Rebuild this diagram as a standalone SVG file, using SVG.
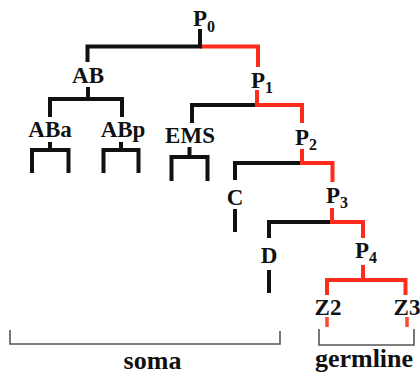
<svg xmlns="http://www.w3.org/2000/svg" width="420" height="378" viewBox="0 0 420 378">
  <style>
    .bg { fill: #ffffff; }
    .soma { fill: none; stroke: #111111; stroke-width: 4; stroke-linecap: butt; stroke-linejoin: miter; }
    .germ { fill: none; stroke: #ff2b1c; stroke-width: 4; stroke-linecap: butt; stroke-linejoin: miter; }
    .fate { fill: none; stroke: #ff4a30; stroke-width: 3.5; }
    .brace { fill: none; stroke: #555555; stroke-width: 1.6; }
    .lbl { font-family: "Liberation Serif", "Times New Roman", serif; font-weight: bold; font-size: 23px; fill: #111111; }
    .mid { text-anchor: middle; }
    .sub { font-size: 16px; }
    .group { font-family: "Liberation Serif", "Times New Roman", serif; font-weight: bold; font-size: 26px; fill: #111111; text-anchor: middle; }
  </style>
  <rect class="bg" x="0" y="0" width="420" height="378"/>

  <!-- lineage connectors -->
  <g id="connectors">
    <!-- germline (P) branches -->
    <path class="germ" d="M200,46.5 H258 V67"/>
    <path class="germ" d="M257,90 V105 H302 V123"/>
    <path class="germ" d="M302,149 V163 H332.5 V182"/>
    <path class="germ" d="M332,208 V222 H363 V238"/>
    <path class="germ" d="M363,265 V280"/>
    <path class="germ" d="M327,295 V280 H405.5 V295"/>
    <path class="fate" d="M327,317 V327 M407,317 V327"/>
    <!-- somatic branches -->
    <path class="soma" d="M200,29 V46.5 H87.5 V62"/>
    <path class="soma" d="M88,87 V99"/>
    <path class="soma" d="M50,117 V99 H122 V117"/>
    <path class="soma" d="M50,142 V150 M32,173 V150 H68.5 V173"/>
    <path class="soma" d="M121,142 V150 M103.5,173 V150 H138.5 V173"/>
    <path class="soma" d="M189.5,147 V157 M171.5,181 V157 H207.5 V181"/>
    <path class="soma" d="M255,105 H192 V123"/>
    <path class="soma" d="M300,163 H235 V180"/>
    <path class="soma" d="M235,209 V232"/>
    <path class="soma" d="M330,222 H269 V238"/>
    <path class="soma" d="M269,270 V293"/>
  </g>

  <!-- cells -->
  <g id="P0"><text class="lbl" x="193" y="26">P<tspan class="sub" dy="6">0</tspan></text></g>
  <g id="AB"><text class="lbl mid" x="88" y="83">AB</text></g>
  <g id="P1"><text class="lbl" x="251" y="88">P<tspan class="sub" dy="5">1</tspan></text></g>
  <g id="ABa"><text class="lbl mid" x="50" y="137">ABa</text></g>
  <g id="ABp"><text class="lbl mid" x="123" y="137">ABp</text></g>
  <g id="EMS"><text class="lbl mid" x="190" y="143">EMS</text></g>
  <g id="P2"><text class="lbl" x="295" y="145">P<tspan class="sub" dy="5">2</tspan></text></g>
  <g id="C"><text class="lbl mid" x="235" y="205">C</text></g>
  <g id="P3"><text class="lbl" x="326" y="203">P<tspan class="sub" dy="5">3</tspan></text></g>
  <g id="D"><text class="lbl mid" x="269" y="263">D</text></g>
  <g id="P4"><text class="lbl" x="355" y="258">P<tspan class="sub" dy="5">4</tspan></text></g>
  <g id="Z2"><text class="lbl mid" x="328" y="315">Z2</text></g>
  <g id="Z3"><text class="lbl mid" x="407" y="315">Z3</text></g>

  <!-- tissue brackets -->
  <g id="soma">
    <path class="brace" d="M10,330 V344 H280 V331"/>
    <text class="group" x="152.5" y="369">soma</text>
  </g>
  <g id="germline">
    <path class="brace" d="M319,329 V345 H414 V329"/>
    <text class="group" x="364" y="367">germline</text>
  </g>
</svg>
